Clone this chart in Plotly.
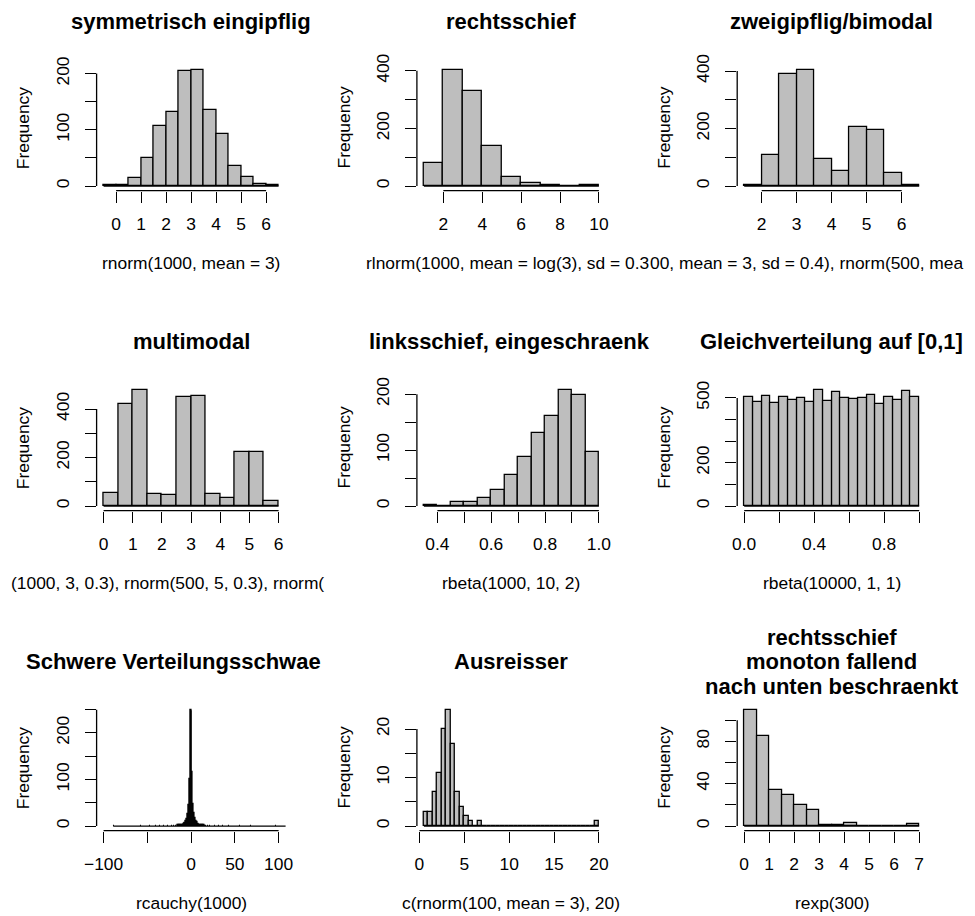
import plotly.graph_objects as go

# ---------------- data ----------------
sym_breaks = [-0.5, 0.0, 0.5, 1.0, 1.5, 2.0, 2.5, 3.0, 3.5, 4.0, 4.5, 5.0, 5.5, 6.0, 6.5]
sym_counts = [1, 2, 15, 50, 106, 131, 204, 207, 135, 92, 36, 16, 4, 1]

lnorm_breaks = [1, 2, 3, 4, 5, 6, 7, 8, 9, 10]
lnorm_counts = [80, 404, 331, 140, 30, 10, 2, 1, 2]

bim_breaks = [1.5, 2.0, 2.5, 3.0, 3.5, 4.0, 4.5, 5.0, 5.5, 6.0, 6.5]
bim_counts = [2, 108, 390, 405, 94, 54, 204, 196, 45, 2]

multi_breaks = [0.0, 0.5, 1.0, 1.5, 2.0, 2.5, 3.0, 3.5, 4.0, 4.5, 5.0, 5.5, 6.0]
multi_counts = [54, 422, 480, 49, 45, 448, 453, 49, 33, 223, 222, 22]

beta_breaks = [0.35, 0.40, 0.45, 0.50, 0.55, 0.60, 0.65, 0.70, 0.75, 0.80, 0.85, 0.90, 0.95, 1.00]
beta_counts = [1, 0, 8, 8, 15, 29, 56, 88, 131, 161, 208, 199, 96]

unif_breaks = [0.00, 0.05, 0.10, 0.15, 0.20, 0.25, 0.30, 0.35, 0.40, 0.45, 0.50,
               0.55, 0.60, 0.65, 0.70, 0.75, 0.80, 0.85, 0.90, 0.95, 1.00]
unif_counts = [503, 480, 508, 475, 503, 492, 498, 483, 538, 486,
               527, 498, 494, 498, 514, 472, 503, 492, 533, 503]

# Cauchy: bins of width 1, listed by left edge (only non-empty bins)
cauchy_bin_left = [-89, -72, -58, -47, -41, -36, -31, -27, -24, -22, -20, -18, -16,
                   -15, -14, -13, -12, -11, -10, -9, -8, -7, -6, -5, -4, -3, -2, -1,
                   0, 1, 2, 3, 4, 5, 6, 7, 8, 9, 10, 11, 12, 13, 14,
                   15, 17, 19, 21, 24, 27, 31, 36, 43, 55, 68, 97, 130]
cauchy_counts = [1, 1, 1, 1, 1, 1, 1, 1, 1, 1, 1, 1, 1,
                 2, 2, 2, 2, 2, 3, 4, 6, 7, 10, 15, 25, 45, 100, 250,
                 248, 117, 48, 28, 17, 11, 8, 5, 4, 3, 2, 2, 2, 2, 2,
                 1, 1, 1, 1, 1, 1, 1, 1, 1, 1, 1, 1, 1]
cauchy_bin_width = 1
cauchy_xlim = [-100, 100]

out_breaks = [0.5 + 0.5 * k for k in range(40)]
out_counts = [3, 3, 7, 11, 20, 24, 17, 7, 4, 2, 1, 0, 1] + [0] * 25 + [1]

exp_breaks = [0.0, 0.5, 1.0, 1.5, 2.0, 2.5, 3.0, 3.5, 4.0, 4.5, 5.0, 5.5, 6.0, 6.5, 7.0]
exp_counts = [110, 85, 34, 29, 20, 15, 1, 1, 3, 0, 0, 0, 0, 2]

titles = ["symmetrisch eingipflig", "rechtsschief", "zweigipflig/bimodal",
          "multimodal", "linksschief, eingeschraenkt", "Gleichverteilung auf [0,1]",
          "Schwere Verteilungsschwaenze", "Ausreisser",
          "rechtsschief<br>monoton fallend<br>nach unten beschraenkt"]
xlabels = ["rnorm(1000, mean = 3)", "rlnorm(1000, mean = log(3), sd = 0.3",
           "00, mean = 3, sd = 0.4), rnorm(500, mea",
           "(1000, 3, 0.3), rnorm(500, 5, 0.3), rnorm(", "rbeta(1000, 10, 2)",
           "rbeta(10000, 1, 1)", "rcauchy(1000)", "c(rnorm(100, mean = 3), 20)", "rexp(300)"]

xticks = [[0, 1, 2, 3, 4, 5, 6], [2, 4, 6, 8, 10], [2, 3, 4, 5, 6],
          [0, 1, 2, 3, 4, 5, 6], [0.4, 0.5, 0.6, 0.7, 0.8, 0.9, 1.0],
          [0.0, 0.2, 0.4, 0.6, 0.8, 1.0], [-100, -50, 0, 50, 100],
          [0, 5, 10, 15, 20], [0, 1, 2, 3, 4, 5, 6, 7]]
xticklabels = [["0", "1", "2", "3", "4", "5", "6"], ["2", "4", "6", "8", "10"],
               ["2", "3", "4", "5", "6"], ["0", "1", "2", "3", "4", "5", "6"],
               ["0.4", "", "0.6", "", "0.8", "", "1.0"],
               ["0.0", "", "0.4", "", "0.8", ""],
               ["\u2212100", "", "0", "50", "100"], ["0", "5", "10", "15", "20"],
               ["0", "1", "2", "3", "4", "5", "6", "7"]]
yticks = [[0, 50, 100, 150, 200], [0, 100, 200, 300, 400], [0, 100, 200, 300, 400],
          [0, 100, 200, 300, 400], [0, 50, 100, 150, 200], [0, 100, 200, 300, 400, 500],
          [0, 50, 100, 150, 200, 250], [0, 5, 10, 15, 20], [0, 20, 40, 60, 80, 100]]
yticklabels = [["0", "", "100", "", "200"], ["0", "", "200", "", "400"],
               ["0", "", "200", "", "400"], ["0", "", "200", "", "400"],
               ["0", "", "100", "", "200"], ["0", "", "200", "", "", "500"],
               ["0", "", "100", "", "200", ""], ["0", "", "10", "", "20"],
               ["0", "", "40", "", "80", ""]]

# ---------------- layout constants ----------------
W, H = 975, 916
FONT = "Liberation Sans, Arial, sans-serif"
FS = 17.4
TFS = 22
LW = 1.3
FILL = "#BEBEBE"
COL_LEFT = [96.6, 416.9, 737.2]
ROW_BOTTOM = [190.7, 510.7, 830.7]
PW, PH = 189.0, 125.7


def px(x):
    return x / W


def py(y):
    return 1 - y / H


def hist_geom(breaks, counts):
    centers = [(a + b) / 2 for a, b in zip(breaks[:-1], breaks[1:])]
    widths = [b - a for a, b in zip(breaks[:-1], breaks[1:])]
    return centers, widths, list(counts)


panels = []
for br, ct in [(sym_breaks, sym_counts), (lnorm_breaks, lnorm_counts), (bim_breaks, bim_counts),
               (multi_breaks, multi_counts), (beta_breaks, beta_counts), (unif_breaks, unif_counts)]:
    c, w, h = hist_geom(br, ct)
    panels.append(dict(centers=c, widths=w, counts=h, base=(br[0], br[-1]), xlim=(br[0], br[-1])))
panels.append(dict(centers=[l + cauchy_bin_width / 2 for l in cauchy_bin_left],
                   widths=[cauchy_bin_width] * len(cauchy_bin_left), counts=cauchy_counts,
                   base=(cauchy_bin_left[0], cauchy_bin_left[-1] + cauchy_bin_width),
                   xlim=tuple(cauchy_xlim)))
for br, ct in [(out_breaks, out_counts), (exp_breaks, exp_counts)]:
    c, w, h = hist_geom(br, ct)
    panels.append(dict(centers=c, widths=w, counts=h, base=(br[0], br[-1]), xlim=(br[0], br[-1])))

fig = go.Figure()
shapes = []
annotations = []

for i, p in enumerate(panels):
    r, c = divmod(i, 3)
    L, B = COL_LEFT[c], ROW_BOTTOM[r]
    T = B - PH
    sfx = "" if i == 0 else str(i + 1)
    xa, ya = "x" + sfx, "y" + sfx

    fig.add_trace(go.Bar(x=p["centers"], y=p["counts"], width=p["widths"],
                         marker=dict(color=FILL, line=dict(color="black", width=LW)),
                         xaxis=xa, yaxis=ya, showlegend=False, hoverinfo="skip"))
    fig.add_trace(go.Scatter(x=list(p["base"]), y=[0, 0], mode="lines",
                             line=dict(color="black", width=LW),
                             xaxis=xa, yaxis=ya, showlegend=False, hoverinfo="skip"))

    lo, hi = p["xlim"]
    pad = 0.04 * (hi - lo)
    ymax = max(p["counts"])
    axfont = dict(family=FONT, size=FS, color="black")
    fig.layout["xaxis" + sfx] = dict(
        domain=[px(L), px(L + PW)], range=[lo - pad, hi + pad], anchor=ya, automargin=False,
        tickmode="array", tickvals=xticks[i], ticktext=xticklabels[i],
        ticks="outside", ticklen=11, tickwidth=LW, tickcolor="black",
        showline=False, showgrid=False, zeroline=False, tickfont=axfont,
        ticklabelstandoff=6, fixedrange=True)
    fig.layout["yaxis" + sfx] = dict(
        domain=[py(B), py(T)], range=[-0.04 * ymax, 1.04 * ymax], anchor=xa, automargin=False,
        tickmode="array", tickvals=yticks[i], ticktext=yticklabels[i],
        ticks="outside", ticklen=11, tickwidth=LW, tickcolor="black", tickangle=-90,
        showline=False, showgrid=False, zeroline=False, tickfont=axfont,
        ticklabelstandoff=9, fixedrange=True)

    # R-style axis lines spanning first..last tick
    shapes.append(dict(type="line", xref=xa, yref=ya + " domain",
                       x0=xticks[i][0], x1=xticks[i][-1], y0=0, y1=0,
                       line=dict(color="black", width=LW)))
    shapes.append(dict(type="line", xref=xa + " domain", yref=ya,
                       x0=0, x1=0, y0=yticks[i][0], y1=yticks[i][-1],
                       line=dict(color="black", width=LW)))

    cx = L + PW / 2
    tfont = dict(family=FONT, size=TFS, color="black")
    title_center = T - 43.1
    if i == 8:
        for k, line in enumerate(titles[i].split("<br>")):
            annotations.append(dict(text="<b>%s</b>" % line, x=px(cx), y=py(title_center + (k - 1) * 24.2),
                                    xref="paper", yref="paper", xanchor="center", yanchor="middle",
                                    showarrow=False, font=tfont))
    elif i == 4:
        annotations.append(dict(text="<b>%s</b>" % titles[i][:-1], x=px(367.7), y=py(title_center),
                                xref="paper", yref="paper", xanchor="left", yanchor="middle",
                                showarrow=False, font=tfont, borderpad=0))
    elif i == 6:
        annotations.append(dict(text="<b>%s</b>" % titles[i][:-3], x=px(24.8), y=py(title_center),
                                xref="paper", yref="paper", xanchor="left", yanchor="middle",
                                showarrow=False, font=tfont, borderpad=0))
    else:
        annotations.append(dict(text="<b>%s</b>" % titles[i], x=px(cx), y=py(title_center),
                                xref="paper", yref="paper", xanchor="center", yanchor="middle",
                                showarrow=False, font=tfont))

    lfont = dict(family=FONT, size=FS, color="black")
    xl_y = py(B + 72)
    if i == 1:
        annotations.append(dict(text=xlabels[i], x=px(650), y=xl_y, xref="paper", yref="paper",
                                xanchor="right", yanchor="middle", showarrow=False, font=lfont, borderpad=0))
    elif i == 2:
        annotations.append(dict(text=xlabels[i], x=px(649), y=xl_y, xref="paper", yref="paper",
                                xanchor="left", yanchor="middle", showarrow=False, font=lfont, borderpad=0))
    elif i == 3:
        annotations.append(dict(text=xlabels[i], x=px(9.5), y=xl_y, xref="paper", yref="paper",
                                xanchor="left", yanchor="middle", showarrow=False, font=lfont, borderpad=0))
    else:
        annotations.append(dict(text=xlabels[i], x=px(cx), y=xl_y, xref="paper", yref="paper",
                                xanchor="center", yanchor="middle", showarrow=False, font=lfont))
    annotations.append(dict(text="Frequency", x=px(L - 73.3), y=py(B - PH / 2), xref="paper", yref="paper",
                            xanchor="center", yanchor="middle", textangle=-90, showarrow=False, font=lfont))

fig.update_layout(width=W, height=H, margin=dict(l=0, r=0, t=0, b=0, autoexpand=False),
                  paper_bgcolor="white", plot_bgcolor="white",
                  shapes=shapes, annotations=annotations, bargap=0, showlegend=False,
                  font=dict(family=FONT, size=FS, color="black"))

fig.write_html("out.html")
